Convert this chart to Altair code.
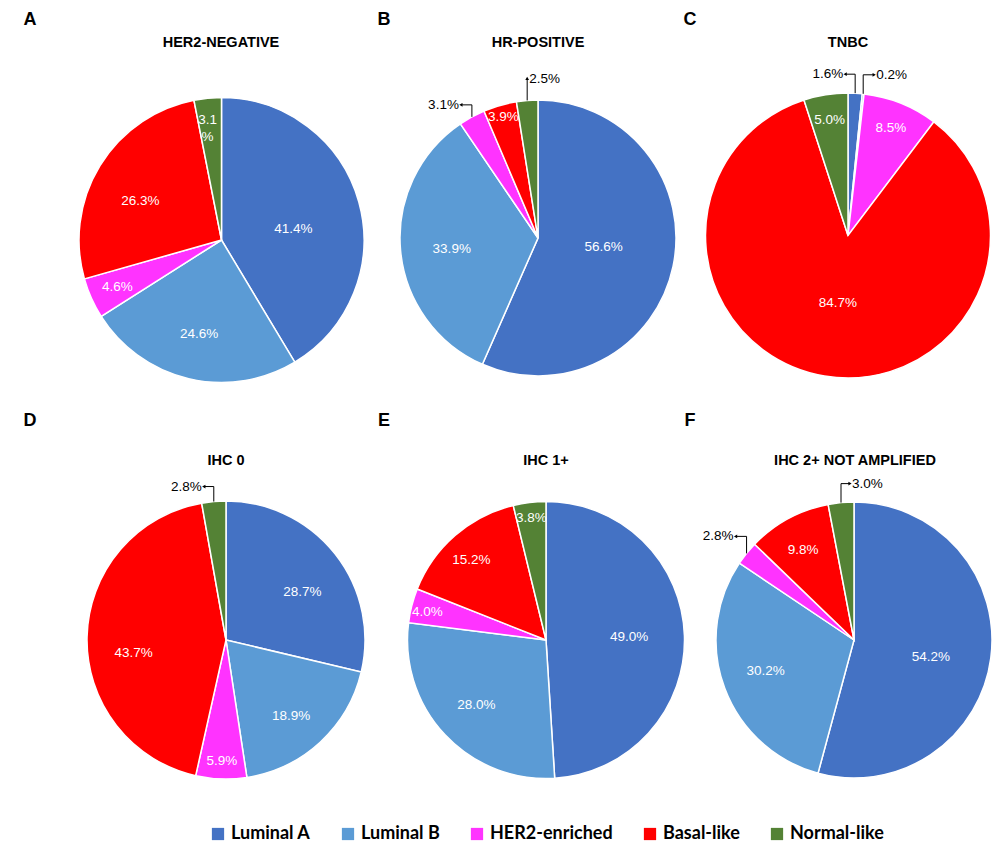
import altair as alt
import pandas as pd
import numpy as np

# ---------------- data ----------------
subtypes = ["Luminal A", "Luminal B", "HER2-enriched", "Basal-like", "Normal-like"]
palette = ["#4472C4", "#5B9BD5", "#FF33FF", "#FF0000", "#548235"]

panel_letters = ["A", "B", "C", "D", "E", "F"]
panel_titles = ["HER2-NEGATIVE", "HR-POSITIVE", "TNBC", "IHC 0", "IHC 1+", "IHC 2+ NOT AMPLIFIED"]

her2_negative = [41.4, 24.6, 4.6, 26.3, 3.1]
hr_positive = [56.6, 33.9, 3.1, 3.9, 2.5]
tnbc = [1.6, 0.2, 8.5, 84.7, 5.0]
ihc_0 = [28.7, 18.9, 5.9, 43.7, 2.8]
ihc_1plus = [49.0, 28.0, 4.0, 15.2, 3.8]
ihc_2plus_not_amplified = [54.2, 30.2, 2.8, 9.8, 3.0]

panel_values = [her2_negative, hr_positive, tnbc, ihc_0, ihc_1plus, ihc_2plus_not_amplified]

# ---------------- layout (chart pixels) ----------------
centers = [(213.5, 232), (530, 230), (840, 227.5), (218, 632), (538, 632), (846, 632)]
radii = [142.5, 138, 142.5, 139, 138.5, 138]
title_pos = [(213, 35), (530, 35), (840, 35), (218, 453), (538, 453), (847, 453)]
letter_pos = [(22, 12), (376, 12), (682, 12), (22, 413), (376, 413), (682, 413)]
# inside labels: (fraction of radius, angle tweak in degrees); callouts: (direction, rise, run)
label_place = [
    [(0.51, 7), (0.68, 0), (0.80, 0), (0.63, -6), (0.85, -1)],
    [(0.48, -4), (0.63, -2), ("left", 12, 11), (0.91, 0), ("up", 22, 0)],
    [("left", 19, 10), ("right", 19, 11), (0.81, 0), (0.48, -1), (0.82, 0)],
    [(0.65, 6), (0.72, 2), (0.87, 0), (0.67, -9), ("left", 15, 10)],
    [(0.60, 0), (0.69, 0), (0.88, -1), (0.79, -2), (0.89, 0)],
    [(0.57, 5), (0.68, 1), ("left", 17, 11), (0.75, -1), ("right", 19, 9)],
]
wrapped = {(0, 4)}

FONT = "Liberation Sans"

rows, in_labels, c_lines, c_heads, c_texts = [], [], [], [], []
for p, vals in enumerate(panel_values):
    cx, cy = centers[p]
    r = radii[p]
    total = float(sum(vals))
    cum = 0.0
    for i, v in enumerate(vals):
        mid = (cum + v / 2.0) / total * 2 * np.pi
        cum += v
        rows.append(dict(panel=panel_letters[p], subtype=subtypes[i], value=v, ord=i))
        lab = f"{v:.1f}%"
        place = label_place[p][i]
        if isinstance(place[0], str):
            d, rise, h = place
            ax = cx + r * np.sin(mid)
            ay = cy - r * np.cos(mid)
            ey = ay - rise
            ex = ax - h if d == "left" else (ax + h if d == "right" else ax)
            cid = f"{p}-{i}"
            for k, (px, py) in enumerate([(ax, ay), (ax, ey), (ex, ey)]):
                c_lines.append(dict(cid=cid, k=k, px=px, py=py))
            c_heads.append(dict(px=ex, py=ey, dir=d))
            if d == "left":
                c_texts.append(dict(px=ex - 2, py=ey, text=lab, al="right"))
            else:
                c_texts.append(dict(px=ex + 2, py=ey + (1 if d == "up" else 0), text=lab, al="left"))
        else:
            frac, dang = place
            lr = frac * r
            ang = mid + np.radians(dang)
            txt = f"{v:.1f}\n%" if (p, i) in wrapped else lab
            in_labels.append(dict(px=cx + lr * np.sin(ang), py=cy - lr * np.cos(ang), text=txt))

df = pd.DataFrame(rows)
df_in = pd.DataFrame(in_labels)
df_lines = pd.DataFrame(c_lines)
df_heads = pd.DataFrame(c_heads)
df_ctext = pd.DataFrame(c_texts)
df_titles = pd.DataFrame(dict(text=panel_titles, px=[t[0] for t in title_pos], py=[t[1] for t in title_pos]))
df_letters = pd.DataFrame(dict(text=panel_letters, px=[t[0] for t in letter_pos], py=[t[1] for t in letter_pos]))

color_scale = alt.Scale(domain=subtypes, range=palette)
legend = alt.Legend(
    title=None, orient="none", direction="horizontal", legendX=201, legendY=817,
    symbolType="square", symbolSize=150, symbolStrokeWidth=0, labelFont="Lato",
    labelFontWeight="bold", labelFontSize=18, labelColor="black", columnPadding=28,
    labelOffset=4, padding=0, labelLimit=400,
)

layers = []
for p in range(6):
    cx, cy = centers[p]
    arc = alt.Chart(df).transform_filter(alt.datum.panel == panel_letters[p]).mark_arc(
        radius=radii[p], stroke="white", strokeWidth=1.5
    ).encode(
        theta=alt.Theta("value:Q", stack="normalize"),
        order=alt.Order("ord:Q"),
        color=alt.Color("subtype:N", scale=color_scale, legend=legend),
        x=alt.value(cx),
        y=alt.value(cy),
    )
    layers.append(arc)

XI = lambda f: alt.X(f, scale=None, axis=None)
YI = lambda f: alt.Y(f, scale=None, axis=None)

inside = alt.Chart(df_in).mark_text(font=FONT, fontSize=13.5, color="white", lineBreak="\n", lineHeight=17).encode(
    x=XI("px:Q"), y=YI("py:Q"), text="text:N"
)
lines = alt.Chart(df_lines).mark_line(color="black", strokeWidth=1).encode(
    x=XI("px:Q"), y=YI("py:Q"), detail="cid:N", order="k:Q"
)
heads = alt.Chart(df_heads).mark_point(filled=True, color="black", size=14, opacity=1).encode(
    x=XI("px:Q"), y=YI("py:Q"),
    shape=alt.Shape("dir:N", scale=alt.Scale(domain=["left", "right", "up"],
                                             range=["triangle-left", "triangle-right", "triangle-up"]), legend=None),
)
ctext_r = alt.Chart(df_ctext).transform_filter(alt.datum.al == "right").mark_text(
    font=FONT, fontSize=13.5, color="black", align="right").encode(x=XI("px:Q"), y=YI("py:Q"), text="text:N")
ctext_l = alt.Chart(df_ctext).transform_filter(alt.datum.al == "left").mark_text(
    font=FONT, fontSize=13.5, color="black", align="left").encode(x=XI("px:Q"), y=YI("py:Q"), text="text:N")
titles = alt.Chart(df_titles).mark_text(font=FONT, fontSize=14.5, fontWeight="bold", color="black").encode(
    x=XI("px:Q"), y=YI("py:Q"), text="text:N")
letters = alt.Chart(df_letters).mark_text(font=FONT, fontSize=18, fontWeight="bold", color="black").encode(
    x=XI("px:Q"), y=YI("py:Q"), text="text:N")

chart = alt.layer(*layers, inside, lines, heads, ctext_r, ctext_l, titles, letters).properties(
    width=984, height=836, padding=0, autosize="none", background="white"
).configure_view(stroke=None)

chart.save("out.html", embed_options={"renderer": "svg", "actions": False})
